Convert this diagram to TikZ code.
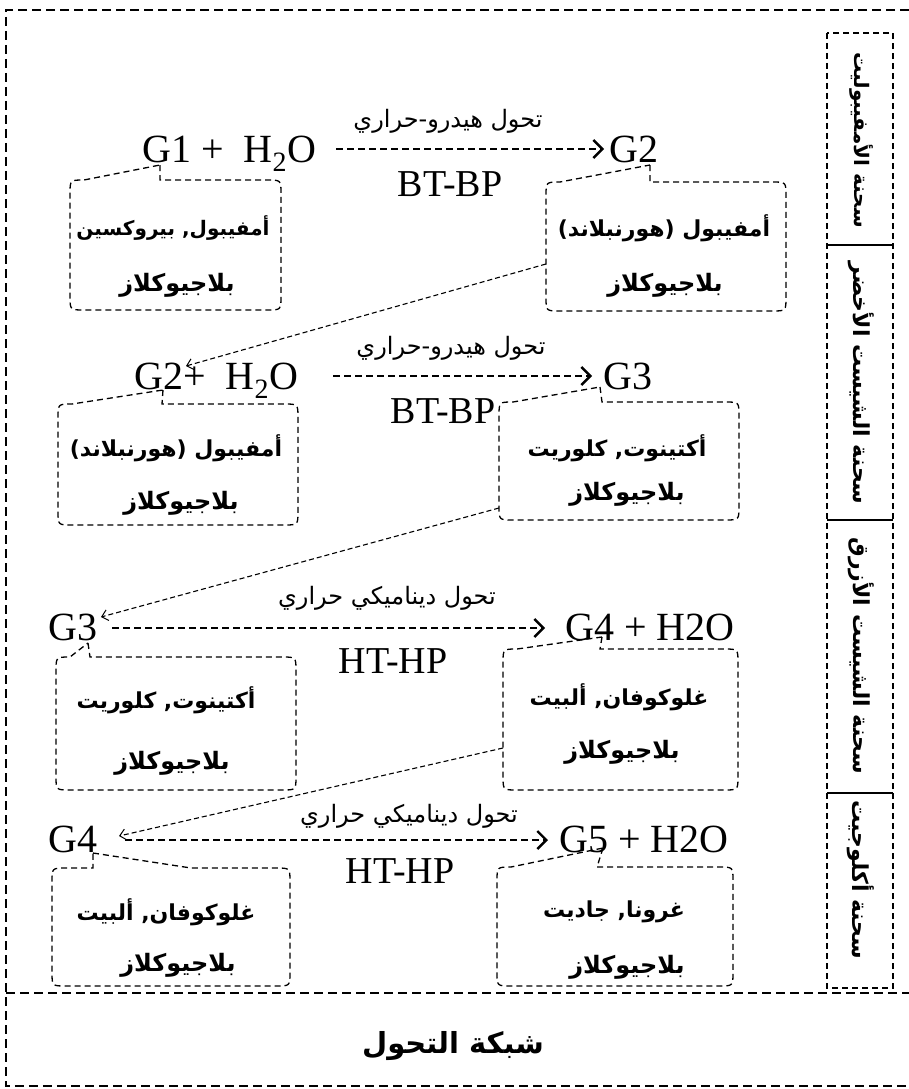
\documentclass[tikz,border=0pt]{standalone}
\usepackage{fontspec}
\setmainfont{Liberation Serif}
\newfontfamily\arabicfont[Script=Arabic]{DejaVu Sans}
\TeXXeTstate=1
\usetikzlibrary{arrows.meta}
\newcommand\ar[1]{{\arabicfont\beginR #1\endR}}

% dashed mineral box with a pointer on its top edge
% #1 name, #2 left, #3 top, #4 right, #5 bottom, #6 pointer base 1, #7/#8 pointer tip, #9 pointer base 2
\newcommand\mineralbox[9]{%
  \coordinate (#1-nw) at (#2,#3);
  \coordinate (#1-se) at (#4,#5);
  \draw[boxline] (#7,#8) -- (#9,#3) -- ({#4-14},#3) .. controls (#4,#3) .. (#4,{#3+14})
    -- (#4,{#5-14}) .. controls (#4,#5) .. ({#4-14},#5)
    -- ({#2+14},#5) .. controls (#2,#5) .. (#2,{#5-14})
    -- (#2,{#3+14}) .. controls (#2,#3) .. ({#2+14},#3) -- (#6,#3) -- cycle;
}

\begin{document}
\begin{tikzpicture}[x=1pt,y=-1pt,
  species/.style={font=\fontsize{40}{46}\selectfont, inner sep=0pt},
  cond/.style={font=\fontsize{38}{44}\selectfont, inner sep=0pt},
  mineral/.style={font=\fontsize{22}{26}\selectfont\bfseries, inner sep=0pt},
  plag/.style={font=\fontsize{24}{28}\selectfont\bfseries, inner sep=0pt},
  metlabel/.style={font=\fontsize{24}{28}\selectfont, inner sep=0pt},
  facies/.style={font=\fontsize{22}{26}\selectfont\bfseries, inner sep=0pt, rotate=-90},
  mainarrow/.style={line width=2.6pt, dash pattern=on 7pt off 4pt,
    -{Straight Barb[length=9pt,width=18pt,line width=2.4pt]}},
  link/.style={line width=1.1pt, dash pattern=on 5pt off 3pt,
    -{Straight Barb[length=6pt,width=11pt,line width=1pt]}},
  boxline/.style={line width=1.3pt, dash pattern=on 6pt off 4pt},
  frameline/.style={line width=2pt, dash pattern=on 9pt off 5pt},
]
\useasboundingbox (0,0) rectangle (909,1089);

% outer frame and title strip
\draw[frameline] (909,10) -- (6,10) -- (6,1086) -- (909,1086);
\draw[frameline] (6,993) -- (909,993);
\node[font=\fontsize{29}{34}\selectfont\bfseries, inner sep=0pt] (title) at (453,1046) {\ar{شبكة التحول}};

% facies column
\draw[boxline] (827,33) rectangle (893,988);
\draw[line width=1.3pt] (827,245) -- (893,245);
\draw[line width=1.3pt] (827,520) -- (893,520);
\draw[line width=1.3pt] (827,793) -- (893,793);
\node[facies, font=\fontsize{20}{24}\selectfont\bfseries] (f1) at (861,140) {\ar{سحنة الأمفيبوليت}};
\node[facies] (f2) at (861,383) {\ar{سحنة الشيست الأخضر}};
\node[facies] (f3) at (861,656) {\ar{سحنة الشيست الأزرق}};
\node[facies] (f4) at (861,880) {\ar{سحنة أكلوجيت}};

% ---- row 1 : hydro-thermal, BT-BP
\node[species, anchor=base west] (r1a) at (142,162) {G1 +\hspace{0.5em}H\textsubscript{2}O};
\node[species, anchor=base west] (r1b) at (609,162) {G2};
\coordinate (a1s) at (336,149);
\coordinate (a1e) at (604,149);
\draw[mainarrow] (a1s) -- (a1e);
\node[metlabel] (l1) at (448,121) {\ar{تحول هيدرو-حراري}};
\node[cond] (c1) at (450,184) {BT-BP};
\mineralbox{b1L}{70}{180}{281}{310}{84}{160}{165}{160}
\node[mineral, font=\fontsize{20}{24}\selectfont\bfseries] (m1La) at (173,228) {\ar{أمفيبول, بيروكسين}};
\node[plag] (m1Lb) at (177,285) {\ar{بلاجيوكلاز}};
\mineralbox{b1R}{546}{182}{786}{311}{560}{650}{165}{650}
\node[mineral] (m1Ra) at (664,228) {\ar{أمفيبول (هورنبلاند)}};
\node[plag] (m1Rb) at (665,285) {\ar{بلاجيوكلاز}};

% ---- row 2 : hydro-thermal, BT-BP
\node[species, anchor=base west] (r2a) at (134,389) {G2+\hspace{0.5em}H\textsubscript{2}O};
\node[species, anchor=base west] (r2b) at (603,389) {G3};
\coordinate (a2s) at (333,376);
\coordinate (a2e) at (592,376);
\draw[mainarrow] (a2s) -- (a2e);
\node[metlabel] (l2) at (451,348) {\ar{تحول هيدرو-حراري}};
\node[cond] (c2) at (443,411) {BT-BP};
\mineralbox{b2L}{58}{404}{298}{525}{72}{163}{390}{162}
\node[mineral] (m2La) at (176,448) {\ar{أمفيبول (هورنبلاند)}};
\node[plag] (m2Lb) at (181,503) {\ar{بلاجيوكلاز}};
\mineralbox{b2R}{499}{402}{739}{520}{513}{600}{387}{602}
\node[mineral] (m2Ra) at (617,448) {\ar{أكتينوت, كلوريت}};
\node[plag] (m2Rb) at (627,494) {\ar{بلاجيوكلاز}};

% ---- row 3 : dynamo-thermal, HT-HP
\node[species, anchor=base west] (r3a) at (48,640) {G3};
\node[species, anchor=base west] (r3b) at (565,640) {G4 + H2O};
\coordinate (a3s) at (112,628);
\coordinate (a3e) at (545,628);
\draw[mainarrow] (a3s) -- (a3e);
\node[metlabel] (l3) at (387,598) {\ar{تحول ديناميكي حراري}};
\node[cond] (c3) at (393,661) {HT-HP};
\mineralbox{b3L}{56}{657}{296}{790}{70}{88}{643}{90}
\node[mineral] (m3La) at (166,700) {\ar{أكتينوت, كلوريت}};
\node[plag] (m3Lb) at (172,763) {\ar{بلاجيوكلاز}};
\mineralbox{b3R}{503}{649}{738}{790}{517}{602}{637}{600}
\node[mineral] (m3Ra) at (619,697) {\ar{غلوكوفان, ألبيت}};
\node[plag] (m3Rb) at (622,752) {\ar{بلاجيوكلاز}};

% ---- row 4 : dynamo-thermal, HT-HP
\node[species, anchor=base west] (r4a) at (48,852) {G4};
\node[species, anchor=base west] (r4b) at (559,852) {G5 + H2O};
\coordinate (a4s) at (125,840);
\coordinate (a4e) at (548,840);
\draw[mainarrow] (a4s) -- (a4e);
\node[metlabel] (l4) at (409,816) {\ar{تحول ديناميكي حراري}};
\node[cond] (c4) at (400,871) {HT-HP};
\mineralbox{b4L}{52}{868}{290}{986}{93}{93}{853}{191}
\node[mineral] (m4La) at (166,912) {\ar{غلوكوفان, ألبيت}};
\node[plag] (m4Lb) at (178,965) {\ar{بلاجيوكلاز}};
\mineralbox{b4R}{497}{867}{733}{986}{511}{603}{848}{597}
\node[mineral] (m4Ra) at (614,912) {\ar{غرونا, جاديت}};
\node[plag] (m4Rb) at (627,967) {\ar{بلاجيوكلاز}};

% links from each product assemblage down to the next reactant
\coordinate (k1s) at (546,264);
\coordinate (k1e) at (186,366);
\draw[link] (k1s) -- (k1e);
\coordinate (k2s) at (499,508);
\coordinate (k2e) at (101,617);
\draw[link] (k2s) -- (k2e);
\coordinate (k3s) at (503,748);
\coordinate (k3e) at (119,836);
\draw[link] (k3s) -- (k3e);
\end{tikzpicture}
\end{document}
